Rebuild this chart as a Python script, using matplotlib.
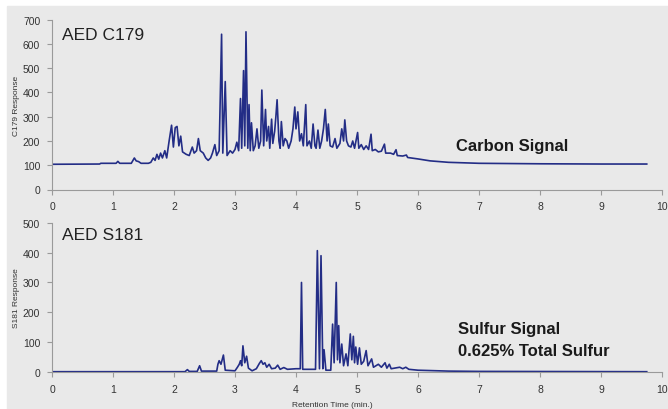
import matplotlib
matplotlib.use('agg')

from matplotlib import pyplot as plt
from matplotlib.patches import Rectangle

# carbon trace (retention time, response)
carbon_t = [0.0, 0.78, 0.80, 1.05, 1.08, 1.11, 1.30, 1.35, 1.38, 1.42, 1.46, 1.58, 1.62, 1.66,
            1.69, 1.72, 1.75, 1.78, 1.81, 1.85, 1.88, 1.92, 1.96, 1.99, 2.02, 2.05, 2.08, 2.11,
            2.14, 2.20, 2.25, 2.30, 2.33, 2.37, 2.40, 2.43, 2.48, 2.52, 2.56, 2.60, 2.63, 2.67,
            2.70, 2.74, 2.78, 2.80, 2.84, 2.87, 2.92, 2.96, 3.00, 3.03, 3.06, 3.09, 3.11, 3.14,
            3.16, 3.18, 3.21, 3.23, 3.25, 3.27, 3.30, 3.33, 3.36, 3.39, 3.42, 3.44, 3.47, 3.50,
            3.52, 3.55, 3.57, 3.60, 3.62, 3.65, 3.67, 3.69, 3.72, 3.74, 3.76, 3.79, 3.82, 3.85,
            3.88, 3.92, 3.95, 3.98, 4.00, 4.03, 4.06, 4.09, 4.12, 4.16, 4.18, 4.22, 4.25, 4.28,
            4.31, 4.33, 4.36, 4.39, 4.42, 4.45, 4.48, 4.51, 4.53, 4.56, 4.60, 4.64, 4.67, 4.72,
            4.75, 4.78, 4.80, 4.83, 4.86, 4.90, 4.93, 4.96, 5.01, 5.03, 5.07, 5.11, 5.15, 5.19,
            5.23, 5.25, 5.30, 5.35, 5.40, 5.45, 5.47, 5.55, 5.60, 5.64, 5.66, 5.75, 5.81, 5.83,
            6.00, 6.2, 6.5, 7.0, 8.0, 9.0, 9.75]
carbon_v = [104, 105, 108, 108, 116, 108, 108, 130, 118, 115, 108, 108, 112, 130,
            120, 145, 125, 150, 130, 160, 130, 200, 265, 175, 255, 260, 180, 220,
            155, 145, 140, 175, 150, 160, 210, 160, 150, 130, 120, 130, 150, 185,
            140, 160, 640, 150, 445, 140, 160, 150, 165, 195, 160, 375, 170, 490,
            180, 650, 170, 350, 160, 275, 160, 180, 250, 170, 200, 410, 180, 330,
            200, 260, 170, 290, 190, 240, 300, 370, 200, 170, 280, 180, 210, 200,
            170, 200, 250, 340, 250, 320, 200, 230, 180, 350, 180, 200, 170, 270,
            180, 170, 245, 170, 200, 250, 330, 200, 270, 180, 175, 210, 170, 190,
            250, 200, 287, 200, 180, 175, 200, 170, 235, 170, 185, 165, 180, 165,
            228, 160, 165, 155, 158, 187, 150, 150, 145, 164, 140, 138, 142, 132,
            126, 118, 112, 108, 106, 105, 105]

# sulfur trace
sulfur_t = [0.0, 2.18, 2.22, 2.25, 2.38, 2.42, 2.45, 2.70, 2.72, 2.74, 2.77, 2.81, 2.84, 3.00,
            3.04, 3.07, 3.09, 3.11, 3.13, 3.16, 3.19, 3.22, 3.28, 3.35, 3.40, 3.43, 3.46, 3.49,
            3.52, 3.56, 3.60, 3.66, 3.70, 3.74, 3.80, 3.86, 4.00, 4.07, 4.09, 4.11, 4.32, 4.35,
            4.385, 4.41, 4.44, 4.46, 4.49, 4.57, 4.60, 4.625, 4.66, 4.68, 4.70, 4.72, 4.75, 4.78,
            4.82, 4.85, 4.89, 4.915, 4.94, 4.96, 4.98, 5.01, 5.04, 5.07, 5.11, 5.15, 5.18, 5.24,
            5.27, 5.35, 5.40, 5.46, 5.49, 5.53, 5.56, 5.70, 5.75, 5.80, 5.85, 6.00, 6.5, 7.0, 9.75]
sulfur_v = [0, 0, 7, 1, 1, 20, 2, 2, 25, 37, 25, 56, 5, 3,
            15, 25, 37, 20, 87, 30, 52, 12, 3, 10, 28, 37, 25, 30,
            15, 25, 10, 12, 22, 8, 14, 8, 10, 10, 300, 8, 8, 407,
            10, 390, 10, 74, 5, 5, 160, 30, 300, 40, 155, 30, 93, 20,
            60, 20, 127, 40, 119, 30, 83, 25, 80, 25, 35, 71, 20, 43,
            15, 25, 15, 30, 12, 25, 10, 15, 10, 15, 8, 5, 2, 1, 0]

x_ticks = list(range(0, 11))
carbon_ticks = list(range(0, 701, 100))
sulfur_ticks = list(range(0, 501, 100))

line_color = '#232d86'
axis_color = '#9a9a9a'
text_color = '#333333'
plt.rcParams['font.family'] = ['Liberation Sans', 'DejaVu Sans']

fig = plt.figure(figsize=(6.68, 4.10), dpi=100)
fig.patches.append(Rectangle((7 / 668, 0), 1, 1 - 7 / 410, transform=fig.transFigure,
                             color='#e9e9e9', zorder=-10))

ax1 = fig.add_axes([52 / 668, 1 - 190.5 / 410, 610 / 668, 169.8 / 410])
ax2 = fig.add_axes([52 / 668, 1 - 372.7 / 410, 610 / 668, 148.7 / 410])

for ax, ticks in [(ax1, carbon_ticks), (ax2, sulfur_ticks)]:
    ax.set_facecolor('none')
    ax.set_xlim(0, 10)
    ax.set_ylim(0, ticks[-1])
    ax.set_xticks(x_ticks)
    ax.set_yticks(ticks)
    for side in ['top', 'right']:
        ax.spines[side].set_visible(False)
    for side in ['left', 'bottom']:
        ax.spines[side].set_color(axis_color)
        ax.spines[side].set_linewidth(0.8)
    ax.tick_params(colors=axis_color, labelcolor=text_color, labelsize=7.5, length=3.5,
                   width=0.8)
    ax.tick_params(axis='x', pad=5)
    ax.tick_params(axis='y', pad=5)

ax1.plot(carbon_t, carbon_v, color=line_color, lw=1.2)
ax2.plot(sulfur_t, sulfur_v, color=line_color, lw=1.2)

ax1.set_ylabel('C179 Response', fontsize=6, color=text_color, labelpad=2)
ax2.set_ylabel('S181 Response', fontsize=6, color=text_color, labelpad=2)

ax1.text(0.16, 640, 'AED C179', fontsize=12.5, color='#222222', va='center')
ax2.text(0.16, 463, 'AED S181', fontsize=12.5, color='#222222', va='center')
ax1.text(6.63, 180, 'Carbon Signal', fontsize=12, fontweight='bold', color='#1a1a1a',
         va='center')
ax2.text(6.65, 144, 'Sulfur Signal', fontsize=12, fontweight='bold', color='#1a1a1a',
         va='center')
ax2.text(6.65, 71, '0.625% Total Sulfur', fontsize=12, fontweight='bold', color='#1a1a1a',
         va='center')

fig.text(332 / 668, 1 - 402 / 410, 'Retention Time (min.)', fontsize=6, color=text_color,
         ha='center', va='top')

plt.savefig('out.png', dpi=100)
